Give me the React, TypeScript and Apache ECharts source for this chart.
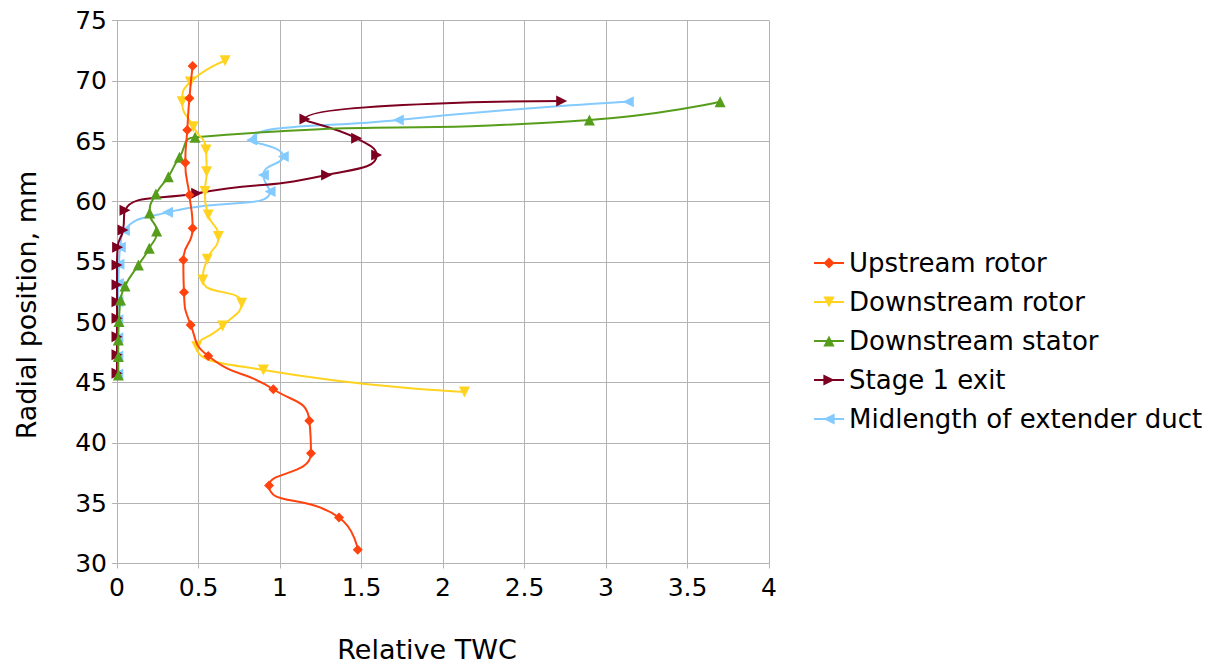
import React, { useEffect, useRef } from "react";
import * as echarts from "echarts";

const seriesNames = [
  "Upstream rotor",
  "Downstream rotor",
  "Downstream stator",
  "Stage 1 exit",
  "Midlength of extender duct",
];

// [Relative TWC, Radial position mm]
const upstreamRotor: number[][] = [
  [0.464, 71.23], [0.444, 68.55], [0.431, 65.93], [0.419, 63.22], [0.444, 60.54],
  [0.464, 57.78], [0.407, 55.16], [0.411, 52.48], [0.452, 49.77], [0.56, 47.2],
  [0.959, 44.44], [1.18, 41.84], [1.19, 39.14], [0.933, 36.46], [1.362, 33.81],
  [1.477, 31.13],
];
const downstreamRotor: number[][] = [
  [0.663, 71.67], [0.45, 69.9], [0.4, 68.27], [0.468, 66.2], [0.546, 64.27],
  [0.55, 62.47], [0.54, 60.82], [0.56, 58.89], [0.622, 57.1], [0.554, 55.22],
  [0.526, 53.5], [0.765, 51.57], [0.648, 49.69], [0.489, 47.97], [0.898, 46.04],
  [2.132, 44.22],
];
const downstreamStator: number[][] = [
  [0.008, 45.63], [0.008, 47.15], [0.008, 48.53], [0.012, 50.05], [0.022, 51.84],
  [0.049, 53.0], [0.131, 54.74], [0.198, 56.12], [0.243, 57.55], [0.2, 59.05],
  [0.239, 60.63], [0.315, 62.06], [0.383, 63.67], [0.479, 65.32], [2.898, 66.76],
  [3.7, 68.27],
];
const stage1Exit: number[][] = [
  [0.0, 45.77], [0.0, 47.29], [0.0, 48.8], [0.0, 50.33], [0.0, 51.7],
  [0.0, 53.1], [0.0, 54.74], [0.004, 56.2], [0.037, 57.64], [0.049, 59.27],
  [0.489, 60.68], [1.286, 62.2], [1.593, 63.86], [1.47, 65.24], [1.153, 66.84],
  [2.728, 68.33],
];
const midlengthDuct: number[][] = [
  [0.005, 45.7], [0.005, 47.2], [0.005, 48.7], [0.005, 50.2], [0.006, 51.7],
  [0.008, 53.2], [0.012, 54.8], [0.02, 56.2], [0.045, 57.6], [0.31, 59.1],
  [0.939, 60.82], [0.898, 62.2], [1.02, 63.72], [0.826, 65.1], [1.726, 66.76],
  [3.137, 68.27],
];

const colors = ["#ff420e", "#ffd320", "#579d1c", "#7e0021", "#83caff"];
const symbols = ["diamond", "triangle", "triangle", "triangle", "triangle"];
const rotations = [0, 180, 0, -90, 90];
const datasets = [upstreamRotor, downstreamRotor, downstreamStator, stage1Exit, midlengthDuct];

const FONT = "'DejaVu Sans', 'Liberation Sans', sans-serif";

export default function App() {
  const ref = useRef<HTMLDivElement>(null);
  useEffect(() => {
    if (!ref.current) return;
    const chart = echarts.init(ref.current, null, { renderer: "svg" });
    chart.setOption({
      animation: false,
      backgroundColor: "#ffffff",
      textStyle: { fontFamily: FONT },
      grid: { left: 117, right: 457, top: 20.5, bottom: 104.5, containLabel: false },
      legend: {
        orient: "vertical",
        left: 808,
        top: 245,
        itemWidth: 30,
        itemHeight: 14,
        itemGap: 13,
        textStyle: { fontSize: 26, color: "#000", fontFamily: FONT },
        data: seriesNames,
      },
      xAxis: {
        type: "value",
        min: 0,
        max: 4,
        interval: 0.5,
        name: "Relative TWC",
        nameLocation: "middle",
        nameGap: 72,
        nameTextStyle: { fontSize: 27, color: "#000", fontFamily: FONT, padding: [0, 32, 0, 0] },
        axisLine: { show: true, lineStyle: { color: "#b3b3b3", width: 1 } },
        axisTick: { show: true, length: 5, lineStyle: { color: "#b3b3b3" } },
        axisLabel: { fontSize: 25, color: "#000", margin: 11, fontFamily: FONT },
        splitLine: { show: true, lineStyle: { color: "#b3b3b3", width: 1 } },
      },
      yAxis: {
        type: "value",
        min: 30,
        max: 75,
        interval: 5,
        name: "Radial position, mm",
        nameLocation: "middle",
        nameGap: 77,
        nameTextStyle: { fontSize: 27, color: "#000", fontFamily: FONT, padding: [0, 26, 0, 0] },
        axisLine: { show: true, lineStyle: { color: "#b3b3b3", width: 1 } },
        axisTick: { show: true, length: 5, lineStyle: { color: "#b3b3b3" } },
        axisLabel: { fontSize: 25, color: "#000", margin: 10, fontFamily: FONT },
        splitLine: { show: true, lineStyle: { color: "#b3b3b3", width: 1 } },
      },
      series: datasets.map((d, i) => ({
        name: seriesNames[i],
        type: "line",
        data: d,
        smooth: 0.55,
        symbol: symbols[i],
        symbolSize: i === 0 ? 10 : 11,
        symbolRotate: rotations[i],
        showAllSymbol: true,
        color: colors[i],
        lineStyle: { width: 2, color: colors[i] },
        itemStyle: { color: colors[i] },
        z: 10 - i,
      })),
    });
    return () => chart.dispose();
  }, []);
  return <div ref={ref} style={{ width: 1226, height: 668, position: "absolute", left: 0, top: 0 }} />;
}
